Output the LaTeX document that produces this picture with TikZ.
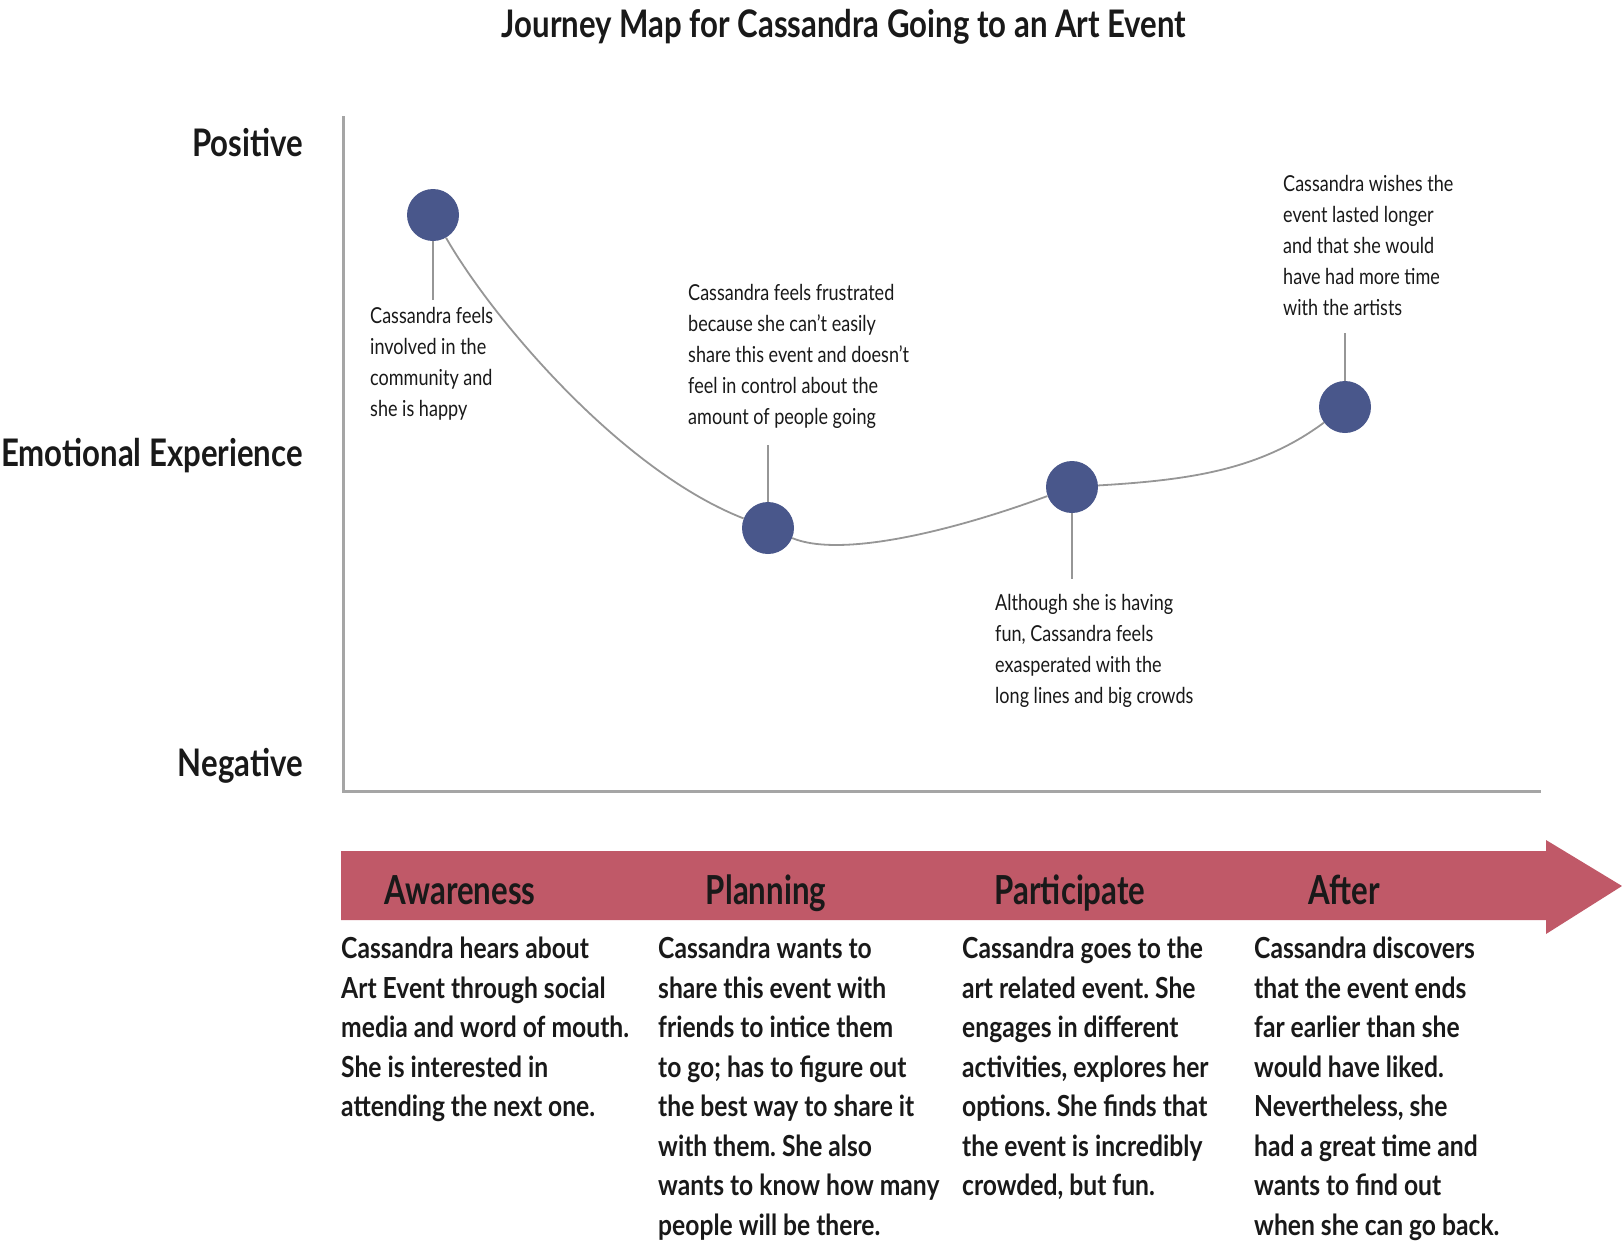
\documentclass[tikz,border=0pt]{standalone}
\usepackage{fontspec}
\setmainfont{Lato}[FakeStretch=0.76]
\newfontfamily\titlefont{Lato}[FakeStretch=0.82]
\newfontfamily\sidefont{Lato}[FakeStretch=0.82]
\newfontfamily\notefont{Lato}[FakeStretch=0.82]
\newfontfamily\bodyfont{Lato}[FakeStretch=0.85]
\newfontfamily\stagefont{Lato}[FakeStretch=0.78]
\frenchspacing
\definecolor{banner}{RGB}{192,89,104}
\definecolor{dot}{RGB}{73,87,139}
\definecolor{axisgray}{RGB}{165,165,165}
\definecolor{curvegray}{RGB}{150,150,150}
\definecolor{ink}{RGB}{25,25,25}
\begin{document}
\begin{tikzpicture}[x=1pt,y=-1pt,
  dotnode/.style={circle,fill=dot,minimum size=52pt,inner sep=0pt},
  stem/.style={draw=curvegray,line width=1.6pt},
  curve/.style={draw=curvegray,line width=1.8pt},
  note/.style={anchor=north west,inner sep=0pt,align=left,text=ink,font=\notefont\frenchspacing\fontsize{22}{31}\selectfont},
  body/.style={anchor=north west,inner sep=0pt,align=left,text=ink,font=\bodyfont\bfseries\frenchspacing\fontsize{29}{39.5}\selectfont},
  stage/.style={anchor=base,inner sep=0pt,text=ink,font=\stagefont\bfseries\fontsize{40}{44}\selectfont},
  side/.style={anchor=base east,inner sep=0pt,text=ink,font=\sidefont\bfseries\fontsize{38}{42}\selectfont}]
\useasboundingbox (0,0) rectangle (1622,1245);
% title
\node[anchor=base,inner sep=0pt,text=ink,font=\titlefont\bfseries\fontsize{38}{42}\selectfont] (title) at (844,37) {Journey Map for Cassandra Going to an Art Event};
% axis
\draw[axisgray,line width=3pt] (343,116) -- (343,791) -- (1541,791);
\node[side] (pos) at (303,156) {Positive};
\node[side] (emo) at (303,466) {Emotional Experience};
\node[side] (neg) at (303,776) {Negative};
% dots
\node[dotnode] (c1) at (433,215) {};
\node[dotnode] (c2) at (768,528) {};
\node[dotnode] (c3) at (1072,487) {};
\node[dotnode] (c4) at (1345,407) {};
% curve
\draw[curve] (c1) .. controls (492,318) and (620,470) .. (c2);
\draw[curve] (c2) .. controls (840,558) and (950,532) .. (c3);
\draw[curve] (c3) .. controls (1190,480) and (1260,470) .. (c4);
% stems
\coordinate (s1) at (433,300);
\coordinate (s2) at (768,445);
\coordinate (s3) at (1072,579);
\coordinate (s4) at (1345,333);
\draw[stem] (c1) -- (s1);
\draw[stem] (c2) -- (s2);
\draw[stem] (c3) -- (s3);
\draw[stem] (c4) -- (s4);
% notes
\node[note] (n1) at (370,307) {Cassandra feels\\involved in the\\community and\\she is happy};
\node[note] (n2) at (688,284) {Cassandra feels frustrated\\because she can’t easily\\share this event and doesn’t\\feel in control about the\\amount of people going};
\node[note] (n3) at (995,594) {Although she is having\\fun, Cassandra feels\\exasperated with the\\long lines and big crowds};
\node[note] (n4) at (1283,175) {Cassandra wishes the\\event lasted longer\\and that she would\\have had more time\\with the artists};
% banner
\fill[banner] (341,851) -- (1546,851) -- (1546,840) -- (1622,886) -- (1546,934) -- (1546,920) -- (341,920) -- cycle;
\node[stage] (st1) at (460,904) {Awareness};
\node[stage] (st2) at (766,904) {Planning};
\node[stage] (st3) at (1070,904) {Participate};
\node[stage] (st4) at (1344,904) {After};
% body
\node[body] (b1) at (341,937) {Cassandra hears about\\Art Event through social\\media and word of mouth.\\She is interested in\\attending the next one.};
\node[body] (b2) at (658,937) {Cassandra wants to\\share this event with\\friends to intice them\\to go; has to figure out\\the best way to share it\\with them. She also\\wants to know how many\\people will be there.};
\node[body] (b3) at (962,937) {Cassandra goes to the\\art related event. She\\engages in different\\activities, explores her\\options. She finds that\\the event is incredibly\\crowded, but fun.};
\node[body] (b4) at (1254,937) {Cassandra discovers\\that the event ends\\far earlier than she\\would have liked.\\Nevertheless, she\\had a great time and\\wants to find out\\when she can go back.};
\end{tikzpicture}
\end{document}
